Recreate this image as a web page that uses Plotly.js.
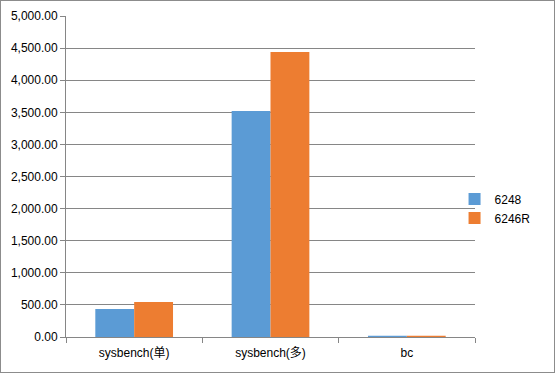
<!DOCTYPE html>
<html><head><meta charset="utf-8">
<script src="https://cdn.plot.ly/plotly-3.0.1.min.js"></script>
<style>
html,body{margin:0;padding:0;background:#fff;}
#chart{width:555px;height:373px;box-sizing:border-box;border:1px solid #8c8c8c;}
</style></head>
<body><div id="chart"></div>
<script>
var categories = ["sysbench(单)", "sysbench(多)", "bc"];
var series6248 = [436, 3520, 18];
var series6246R = [545, 4440, 20];
var seriesNames = ["6248", "6246R"];

var fontFam = "Liberation Sans, Arial, Noto Sans CJK SC, sans-serif";
var data = [
  {type:"bar", name:seriesNames[0], x:categories, y:series6248, marker:{color:"#5B9BD5"}},
  {type:"bar", name:seriesNames[1], x:categories, y:series6246R, marker:{color:"#ED7D31"}}
];
var layout = {
  width:553, height:371,
  margin:{l:65, r:79, t:15, b:35, pad:0},
  paper_bgcolor:"#fff", plot_bgcolor:"#fff",
  font:{family:fontFam, size:12, color:"#000"},
  barmode:"group", bargap:0.43, bargroupgap:0,
  showlegend:true,
  legend:{x:0.95, xanchor:"left", y:0.4, yanchor:"middle", font:{size:12, color:"#000"}, itemwidth:30, tracegroupgap:0, bgcolor:"rgba(0,0,0,0)"},
  xaxis:{type:"category", tickson:"boundaries", ticks:"outside", ticklen:5, tickcolor:"#868686",
    showline:true, linecolor:"#868686", linewidth:1, showgrid:false, fixedrange:true,
    ticklabelstandoff:5, tickfont:{size:12, color:"#000"}},
  yaxis:{range:[0,5000], dtick:500, tick0:0, tickformat:",.2f", ticks:"outside", ticklen:5, tickcolor:"#868686",
    showline:true, linecolor:"#868686", linewidth:1, showgrid:true, gridcolor:"#868686", gridwidth:1,
    zeroline:false, tickfont:{size:12, color:"#000"}}
};
Plotly.newPlot("chart", data, layout, {displayModeBar:false, staticPlot:true});
</script></body></html>
